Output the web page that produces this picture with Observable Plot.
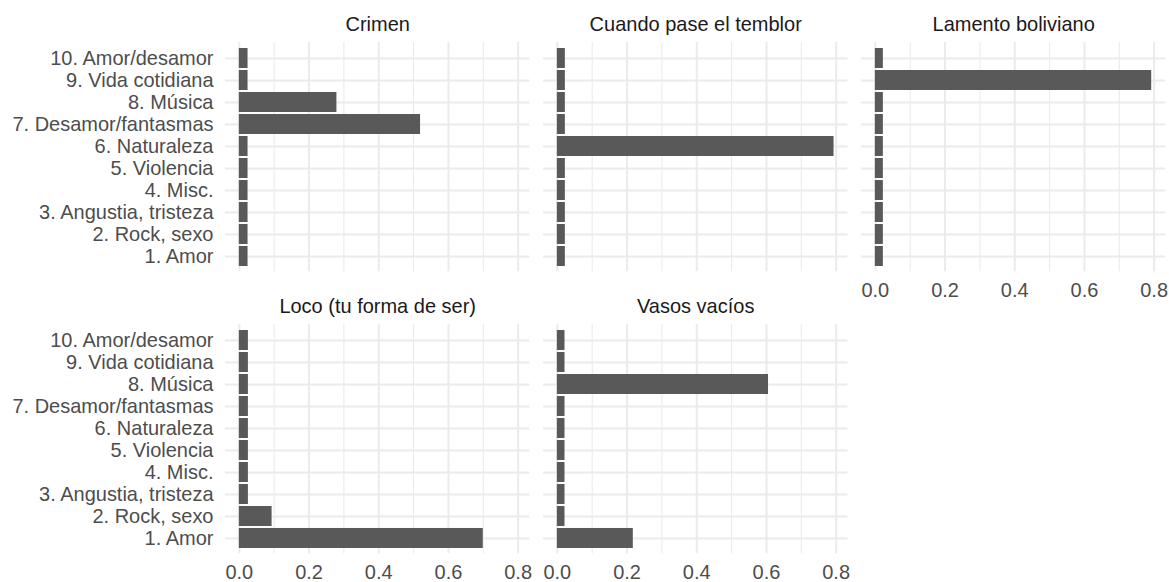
<!DOCTYPE html>
<html>
<head>
<meta charset="utf-8">
<script src="https://cdn.jsdelivr.net/npm/d3@7"></script>
<script src="https://cdn.jsdelivr.net/npm/@observablehq/plot@0.6"></script>
<style>
html, body { margin: 0; padding: 0; background: #ffffff; }
#chart { position: relative; width: 1169px; height: 582px; overflow: hidden; font-family: "Liberation Sans", Arial, sans-serif; }
#chart svg { position: absolute; overflow: visible; max-width: none; }
</style>
</head>
<body>
<div id="chart"></div>
<script>
// ---- data ----
const topics = ["1. Amor", "2. Rock, sexo", "3. Angustia, tristeza", "4. Misc.", "5. Violencia",
                "6. Naturaleza", "7. Desamor/fantasmas", "8. Música", "9. Vida cotidiana", "10. Amor/desamor"];
const songs = ["Crimen", "Cuando pase el temblor", "Lamento boliviano", "Loco (tu forma de ser)", "Vasos vacíos"];
// values per topic (1..10) for each song
const crimen  = [0.025, 0.025, 0.025, 0.025, 0.025, 0.025, 0.520, 0.280, 0.025, 0.025];
const cuando  = [0.023, 0.023, 0.023, 0.023, 0.023, 0.794, 0.023, 0.023, 0.023, 0.023];
const lamento = [0.023, 0.023, 0.023, 0.023, 0.023, 0.023, 0.023, 0.023, 0.793, 0.023];
const loco    = [0.700, 0.094, 0.026, 0.026, 0.026, 0.026, 0.026, 0.026, 0.026, 0.026];
const vasos   = [0.218, 0.022, 0.022, 0.022, 0.022, 0.022, 0.022, 0.606, 0.022, 0.022];
const xTicks = [0, 0.2, 0.4, 0.6, 0.8];
const xMinorTicks = [0.1, 0.3, 0.5, 0.7];

const seriesList = [crimen, cuando, lamento, loco, vasos];
const rows = songs.flatMap((s, i) => topics.map((t, j) => ({song: s, topic: t, value: seriesList[i][j]})));

// ---- layout ----
const xmax = d3.max(rows, d => d.value);
const xDomain = [-0.05 * xmax, 1.05 * xmax];
const panelW = 304.4, panelH = 229.3, firstLeft = 224.9, colGap = 13.8;
const rowTops = [41.5, 323.5];
const nCols = 3;
const font = "'Liberation Sans', Arial, sans-serif";
const grid = "#EBEBEB";

const chart = document.getElementById("chart");

songs.forEach((song, i) => {
  const c = i % nCols, r = Math.floor(i / nCols);
  const showY = c === 0;
  const showX = i + nCols >= songs.length;
  const ml = showY ? 225 : 15, mr = 15, mt = 45, mb = 45;
  const L = firstLeft + c * (panelW + colGap);
  const T = rowTops[r];

  const svg = Plot.plot({
    width: ml + panelW + mr,
    height: mt + panelH + mb,
    marginLeft: ml, marginRight: mr, marginTop: mt, marginBottom: mb,
    style: {background: "transparent", fontFamily: font, fontSize: "20px", overflow: "visible"},
    x: {domain: xDomain, axis: null},
    y: {type: "band", domain: topics.slice().reverse(), paddingInner: 0.1, paddingOuter: 0.15, axis: null},
    marks: [
      Plot.gridX(xMinorTicks, {stroke: grid, strokeOpacity: 1, strokeWidth: 1.1}),
      Plot.gridX(xTicks, {stroke: grid, strokeOpacity: 1, strokeWidth: 2}),
      Plot.gridY(topics, {stroke: grid, strokeOpacity: 1, strokeWidth: 2}),
      Plot.barX(rows.filter(d => d.song === song), {x: "value", y: "topic", fill: "#595959"}),
      showY ? Plot.axisY({tickSize: 0, tickPadding: 12, fontSize: 20, color: "#4D4D4D", label: null}) : null,
      showX ? Plot.axisX(xTicks, {tickSize: 0, tickPadding: 11, tickFormat: d3.format(".1f"), fontSize: 20, color: "#4D4D4D", label: null}) : null,
      Plot.text([song], {text: d => d, frameAnchor: "top", dy: -18, lineAnchor: "middle", fontSize: 20, fill: "#1A1A1A"})
    ]
  });
  svg.style.left = (L - ml) + "px";
  svg.style.top = (T - mt) + "px";
  chart.appendChild(svg);
});
</script>
</body>
</html>
